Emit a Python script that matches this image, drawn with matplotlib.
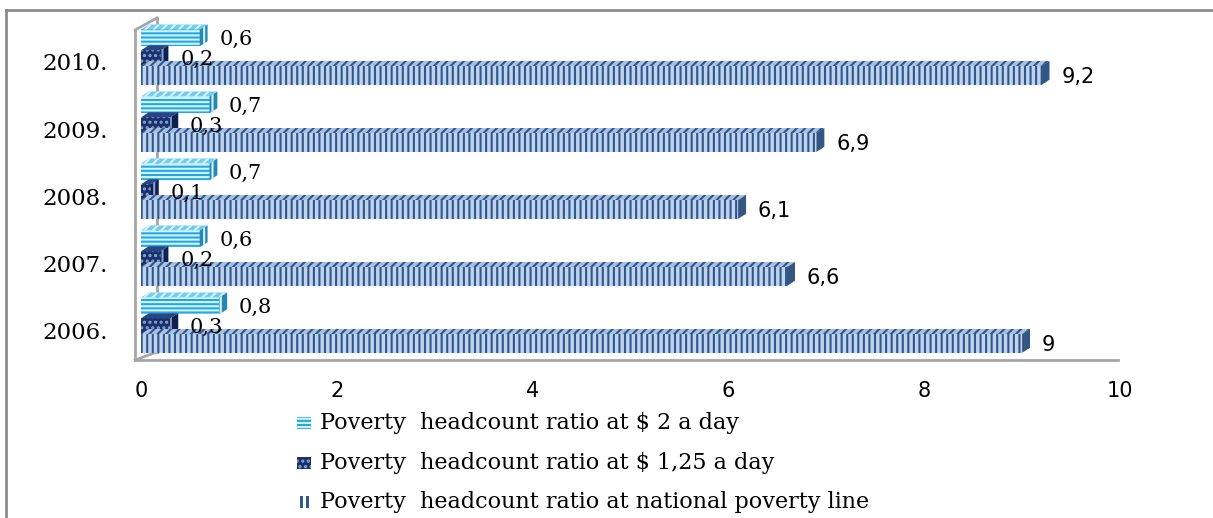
import matplotlib
matplotlib.use('Agg')
import matplotlib.pyplot as plt
from matplotlib.patches import Rectangle, Polygon

years = ['2006.', '2007.', '2008.', '2009.', '2010.']
usd2 = [0.8, 0.6, 0.7, 0.7, 0.6]
usd125 = [0.3, 0.2, 0.1, 0.3, 0.2]
national = [9, 6.6, 6.1, 6.9, 9.2]
legend_labels = ['Poverty  headcount ratio at $ 2 a day',
                 'Poverty  headcount ratio at $ 1,25 a day',
                 'Poverty  headcount ratio at national poverty line']
xticks = [0, 2, 4, 6, 8, 10]

plt.rcParams['hatch.linewidth'] = 1.5

W, H = 1213, 518
DX, DY = 0.08, 0.075  # depth of the fake 3D bars


def fmt(v):
    return f"{v:g}".replace('.', ',')


def bar3d(ax, y, h, v, face, hatch, hcolor, top, side, top_hatch, z):
    ax.add_patch(Rectangle((0, y - h / 2), v, h, facecolor=face, hatch=hatch,
                           edgecolor=hcolor, linewidth=0, zorder=z))
    yt = y + h / 2
    yb = y - h / 2
    ax.add_patch(Polygon([(0, yt), (DX, yt + DY), (v + DX, yt + DY), (v, yt)],
                         facecolor=top, hatch=top_hatch, edgecolor=hcolor,
                         linewidth=0, zorder=z))
    ax.add_patch(Polygon([(v, yb), (v + DX, yb + DY), (v + DX, yt + DY), (v, yt)],
                         facecolor=side, hatch='||', edgecolor=hcolor,
                         linewidth=0, zorder=z))


fig = plt.figure(figsize=(W / 100, H / 100), dpi=100)
ax = fig.add_axes([141 / W, (518 - 380) / H, (1120 - 141) / W, 370 / H])
ax.set_xlim(0, 10)
ax.set_ylim(-0.746, 4.776)
for s in ax.spines.values():
    s.set_visible(False)

# walls and floor
wall = dict(color='#a6a6a6', lw=2, clip_on=False, zorder=0)
ax.plot([-0.06, -0.06], [-0.448, 4.478], **wall)
ax.plot([-0.06, 0.163], [4.478, 4.657], **wall)
ax.plot([0.163, 0.163], [4.657, -0.328], **wall)
ax.plot([-0.06, 0.163], [-0.448, -0.328], **wall)
ax.plot([-0.06, 9.98], [-0.448, -0.448], **wall)

for i in range(len(years)):
    y2 = i + 0.36
    y1 = i + 0.06
    yn = i - 0.2
    bar3d(ax, y2, 0.25, usd2[i], '#1eaae6', '----', '#d8f2fc',
          '#6fcdf2', '#2388b3', '////', 3)
    bar3d(ax, y1, 0.23, usd125[i], '#18326c', '...', '#8aa2d2',
          '#274683', '#0e2252', '', 4)
    bar3d(ax, yn, 0.28, national[i], '#c2d3ea', '|||', '#2b5793',
          '#aac0de', '#36557f', '////', 5)
    ax.text(usd2[i] + 0.2, y2 - 0.02, fmt(usd2[i]), fontsize=15,
            family='DejaVu Serif', va='center', ha='left', zorder=6)
    ax.text(usd125[i] + 0.2, y1 - 0.02, fmt(usd125[i]), fontsize=15,
            family='DejaVu Serif', va='center', ha='left', zorder=6)
    ax.text(national[i] + 0.2, yn - 0.02, fmt(national[i]), fontsize=15,
            family='DejaVu Sans', va='center', ha='left', zorder=6)

ax.set_yticks(range(len(years)))
ax.set_yticklabels(years, fontsize=16.5, family='DejaVu Serif')
ax.tick_params(axis='y', length=0, pad=24)
ax.set_xticks(xticks)
ax.set_xticklabels([str(t) for t in xticks], fontsize=15, family='DejaVu Sans')
ax.tick_params(axis='x', length=0, pad=1)

# legend
leg_y = [423, 463, 502]
styles = [('#1eaae6', '----', '#d8f2fc'), ('#18326c', '...', '#8aa2d2'),
          ('white', '', 'white')]
for k in range(3):
    yy = 1 - leg_y[k] / H
    face, hatch, hc = styles[k]
    if k < 2:
        fig.add_artist(Rectangle((297 / W, yy - 6 / H), 14 / W, 12 / H,
                                 facecolor=face, hatch=hatch, edgecolor=hc,
                                 linewidth=0, transform=fig.transFigure))
    else:
        for xx in (300, 306):
            fig.add_artist(Rectangle((xx / W, yy - 6 / H), 3 / W, 12 / H,
                                     facecolor='#2d5a96', linewidth=0,
                                     transform=fig.transFigure))
    fig.text(320 / W, yy, legend_labels[k], fontsize=16, family='DejaVu Serif',
             va='center', ha='left')

# outer chart border
fig.add_artist(plt.Line2D([6 / W, 1], [1 - 10 / H, 1 - 10 / H], color='#8c8c8c',
                          lw=2, transform=fig.transFigure))
fig.add_artist(plt.Line2D([6 / W, 6 / W], [0, 1 - 10 / H], color='#8c8c8c',
                          lw=2, transform=fig.transFigure))

fig.savefig('out.png', dpi=100)
